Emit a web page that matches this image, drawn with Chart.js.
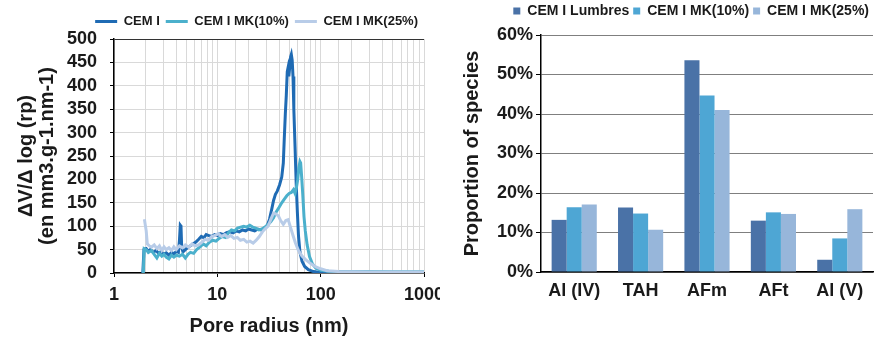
<!DOCTYPE html>
<html><head><meta charset="utf-8">
<script src="https://cdn.jsdelivr.net/npm/chart.js@4.4.1/dist/chart.umd.min.js"></script>
<style>
html,body{margin:0;padding:0;background:#fff;}
#wrap{position:relative;width:877px;height:340px;overflow:hidden;background:#fff;}
#c1{position:absolute;left:0;top:0;}
#c2{position:absolute;left:440px;top:0;}
</style></head><body>
<div id="wrap">
<canvas id="c1" width="440" height="340"></canvas>
<canvas id="c2" width="437" height="340"></canvas>
</div>
<script>
// ---------- Left chart data (pore size distribution) ----------
const lineSeriesNames = ['CEM I', 'CEM I MK(10%)', 'CEM I MK(25%)'];
const xTickLabels = [1, 10, 100, 1000];
const yTickMax = 500;

const cemIRadius = [1.9,1.95,2.05,2.15,2.25,2.4,2.55,2.7,2.85,3.0,3.2,3.4,3.6,3.8,4.0,4.2,4.3,4.38,4.45,4.52,4.65,4.9,5.2,5.5,5.8,6.2,6.6,7.0,7.4,7.8,8.3,8.8,9.4,10,10.7,11.5,12.3,13.2,14.2,15.2,16.3,17.5,18.8,20,21.5,23,24.7,26.5,28.5,30.5,32,33.5,35,36.5,38,40,42,43.5,44.5,45.5,46.5,47.5,48.3,49.2,50.2,51.2,52,53,54,55,56.5,58,59.5,61,63,66,70,76,85,100,150,300,1000];
const cemIValues = [0,50,52,46,50,44,48,42,46,40,43,38,44,41,46,44,70,102,100,55,45,50,55,58,62,66,72,78,75,82,80,78,82,80,84,82,86,88,86,90,88,92,90,94,92,90,94,92,96,102,115,135,155,168,175,188,205,235,290,340,380,430,438,420,440,462,467,455,420,350,270,190,130,80,45,25,14,7,3,1,0.5,0,0];

const mk10Radius = [1.92,1.96,2.05,2.15,2.3,2.45,2.6,2.75,2.9,3.05,3.2,3.4,3.6,3.8,4.0,4.3,4.6,4.9,5.2,5.5,5.9,6.3,6.8,7.3,7.8,8.4,9.0,9.7,10.4,11.2,12,12.8,13.7,14.7,15.7,16.8,18,19.3,20.6,22,23.5,25.2,27,29,31,33,35,37,39.5,42,44.5,47,49.5,52,54.5,56.5,58.5,60,61.5,63,64,65.5,67,69,71,74,78,83,90,100,120,200,500,1000];
const mk10Values = [0,52,50,44,48,40,32,42,36,40,34,30,38,34,38,36,40,32,40,44,42,50,56,62,58,66,70,68,74,78,76,86,92,90,96,98,100,98,102,98,96,92,94,98,104,110,118,130,140,150,158,165,170,172,178,170,185,200,225,238,235,205,170,120,90,60,35,20,10,6,4,3,2.5,2.5];

const mk25Radius = [1.97,2.0,2.05,2.1,2.2,2.3,2.45,2.6,2.75,2.9,3.05,3.2,3.4,3.6,3.8,4.0,4.3,4.6,4.9,5.3,5.7,6.1,6.6,7.1,7.6,8.2,8.8,9.5,10.2,11,11.8,12.6,13.5,14.5,15.6,16.7,18,19.3,20.7,22.2,23.8,25.5,27.3,29.2,31,33,35,37,39,41,43.5,46,48.5,51,54,57,61,66,72,80,90,100,115,150,300,1000];
const mk25Values = [115,105,90,62,58,55,60,52,58,48,56,50,54,48,56,50,58,54,60,55,62,58,60,66,72,70,78,80,84,78,82,76,80,74,76,70,72,66,68,64,70,78,88,95,100,115,128,126,122,112,104,112,114,98,80,64,48,36,28,20,13,9,5,3,2,2];

// ---------- Right chart data (Al species) ----------
const categories = ['Al (IV)', 'TAH', 'AFm', 'AFt', 'Al (V)'];
const barSeriesNames = ['CEM I Lumbres', 'CEM I MK(10%)', 'CEM I MK(25%)'];
const lumbresValues = [13.2, 16.3, 53.6, 13.0, 3.1];
const mk10BarValues = [16.4, 14.8, 44.7, 15.1, 8.5];
const mk25BarValues = [17.1, 10.7, 41.0, 14.7, 15.9];
const pctTickMax = 60;

// ---------- Styling ----------
const FONT = "'Liberation Sans', Arial, Helvetica, sans-serif";
Chart.defaults.font.family = FONT;
Chart.defaults.font.weight = 'bold';
Chart.defaults.color = '#1a1a1a';

const toXY = (xs, ys) => xs.map((x, i) => ({ x: x, y: ys[i] }));
const isDecade = v => Math.abs(Math.log10(v) - Math.round(Math.log10(v))) < 1e-9;

const legendHeight = (h) => ({
  id: 'legendHeight' + h,
  beforeInit(chart) {
    const orig = chart.legend.fit;
    chart.legend.fit = function () { orig.call(this); this.height = h; };
  }
});

const lineColors = ['#1f6bb4', '#4bb0cc', '#b8cce8'];

new Chart(document.getElementById('c1'), {
  type: 'line',
  data: {
    datasets: [
      { label: lineSeriesNames[0], data: toXY(cemIRadius, cemIValues), borderColor: lineColors[0], backgroundColor: lineColors[0], borderWidth: 3, pointRadius: 0, order: 3 },
      { label: lineSeriesNames[1], data: toXY(mk10Radius, mk10Values), borderColor: lineColors[1], backgroundColor: lineColors[1], borderWidth: 3, pointRadius: 0, order: 2 },
      { label: lineSeriesNames[2], data: toXY(mk25Radius, mk25Values), borderColor: lineColors[2], backgroundColor: lineColors[2], borderWidth: 3, pointRadius: 0, order: 1 }
    ]
  },
  options: {
    responsive: false,
    animation: false,
    layout: { padding: { left: 16, right: 16, top: 9, bottom: 0 } },
    plugins: {
      tooltip: { enabled: false },
      legend: {
        position: 'top',
        align: 'end',
        labels: {
          usePointStyle: true,
          pointStyle: 'line',
          pointStyleWidth: 22,
          boxHeight: 13,
          padding: 6,
          font: { size: 13, weight: 'bold' },
          sort: (a, b) => a.datasetIndex - b.datasetIndex
        }
      }
    },
    scales: {
      x: {
        type: 'logarithmic',
        min: 1, max: 1000,
        ticks: {
          autoSkip: false, maxRotation: 0, padding: 7,
          font: { size: 18, weight: 'bold' },
          callback: (v) => (xTickLabels.includes(v) ? String(v) : '')
        },
        grid: {
          color: '#d9d9d9', lineWidth: 1, tickLength: 4,
          tickColor: (c) => (c.tick && isDecade(c.tick.value) ? '#000' : 'rgba(0,0,0,0)')
        },
        border: { color: '#000', width: 1.5 },
        title: { display: true, text: 'Pore radius (nm)', font: { size: 20, weight: 'bold' }, padding: { top: 2, bottom: 2 } },
        afterFit: (s) => { s.height = 67; s.paddingLeft = 0; s.paddingRight = 0; }
      },
      y: {
        min: 0, max: yTickMax,
        ticks: { stepSize: 50, autoSkip: false, padding: 13, font: { size: 18, weight: 'bold' } },
        grid: {
          color: (c) => (c.tick && c.tick.value === yTickMax ? '#333' : '#d9d9d9'),
          tickLength: 4, tickColor: '#000'
        },
        border: { color: '#000', width: 1.5 },
        title: { display: true, text: ['\u0394V/\u0394 log (rp)', '(en mm3.g-1.nm-1)'], font: { size: 20, weight: 'bold', lineHeight: 1.05 }, padding: { top: 0, bottom: 0 } },
        afterFit: (s) => { s.width = 98; }
      }
    }
  },
  plugins: [legendHeight(30)]
});

const barColors = ['#4a72a7', '#4ea6d4', '#97b6da'];

new Chart(document.getElementById('c2'), {
  type: 'bar',
  data: {
    labels: categories,
    datasets: [
      { label: barSeriesNames[0], data: lumbresValues, backgroundColor: barColors[0] },
      { label: barSeriesNames[1], data: mk10BarValues, backgroundColor: barColors[1] },
      { label: barSeriesNames[2], data: mk25BarValues, backgroundColor: barColors[2] }
    ]
  },
  options: {
    responsive: false,
    animation: false,
    layout: { padding: { left: 20, right: 4, top: 0, bottom: 0 } },
    datasets: { bar: { barPercentage: 1, categoryPercentage: 0.68 } },
    plugins: {
      tooltip: { enabled: false },
      legend: {
        position: 'top',
        align: 'end',
        labels: { boxWidth: 7, boxHeight: 7, padding: 4, font: { size: 14, weight: 'bold' } }
      }
    },
    scales: {
      x: {
        grid: { display: false },
        border: { color: '#000', width: 1.5 },
        ticks: { font: { size: 18, weight: 'bold' }, padding: 0 },
        afterFit: (s) => { s.height = 68; }
      },
      y: {
        min: 0, max: pctTickMax,
        ticks: { stepSize: 10, autoSkip: false, padding: 3, font: { size: 18, weight: 'bold' }, callback: (v) => v + '%' },
        grid: { color: '#7f7f7f', tickLength: 5, tickColor: '#000' },
        border: { color: '#000', width: 1.5 },
        title: { display: true, text: 'Proportion of species', font: { size: 20, weight: 'bold' }, padding: { top: 0, bottom: 4 } },
        afterFit: (s) => { s.width = 81; }
      }
    }
  },
  plugins: [legendHeight(35)]
});
</script>
</body></html>
